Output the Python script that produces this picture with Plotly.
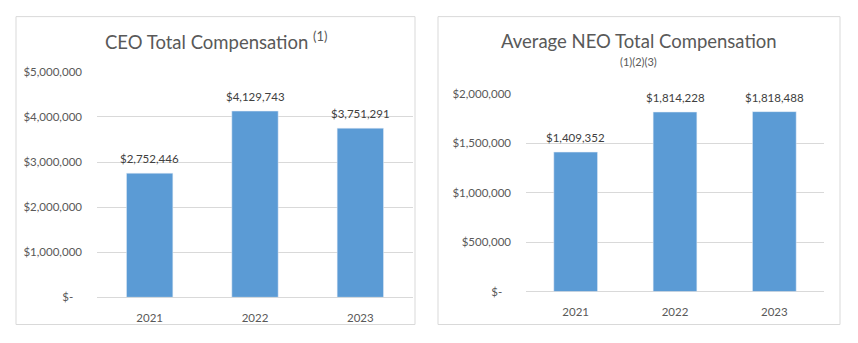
import plotly.graph_objects as go

years = ["2021", "2022", "2023"]
ceo_values = [2752446, 4129743, 3751291]
neo_values = [1409352, 1814228, 1818488]
ceo_labels = ["$2,752,446", "$4,129,743", "$3,751,291"]
neo_labels = ["$1,409,352", "$1,814,228", "$1,818,488"]
ceo_ticks = [0, 1000000, 2000000, 3000000, 4000000, 5000000]
ceo_ticktext = ["$-\u00a0\u00a0\u00a0", "$1,000,000", "$2,000,000", "$3,000,000", "$4,000,000", "$5,000,000"]
neo_ticks = [0, 500000, 1000000, 1500000, 2000000]
neo_ticktext = ["$-\u00a0\u00a0\u00a0", "$500,000", "$1,000,000", "$1,500,000", "$2,000,000"]

W, H = 858, 343
FONT = "Lato"
BAR = "#5B9BD5"
GRID = "#D9D9D9"
TXT = "#595959"

def px(x):
    return x / W

def py(y):
    return 1 - y / H

fig = go.Figure()
fig.add_trace(go.Bar(x=years, y=ceo_values, marker_color=BAR, xaxis="x", yaxis="y",
                     hoverinfo="skip"))
fig.add_trace(go.Bar(x=years, y=neo_values, marker_color=BAR, xaxis="x2", yaxis="y2",
                     hoverinfo="skip"))

annotations = []
for i, (v, t) in enumerate(zip(ceo_values, ceo_labels)):
    annotations.append(dict(x=i, y=v, xref="x", yref="y", text=t, showarrow=False,
                            yanchor="bottom", yshift=6,
                            font=dict(family=FONT, size=11.5, color="#404040")))
for i, (v, t) in enumerate(zip(neo_values, neo_labels)):
    annotations.append(dict(x=i, y=v, xref="x2", yref="y2", text=t, showarrow=False,
                            yanchor="bottom", yshift=6,
                            font=dict(family=FONT, size=11.5, color="#404040")))

annotations.append(dict(x=px(215.5), y=py(35), xref="paper", yref="paper",
                        text="CEO Total Compensation <sup>(1)</sup>", showarrow=False,
                        xanchor="center", yanchor="middle",
                        font=dict(family=FONT, size=18.5, color=TXT)))
annotations.append(dict(x=px(639), y=py(35), xref="paper", yref="paper",
                        text="Average NEO Total Compensation", showarrow=False,
                        xanchor="center", yanchor="middle",
                        font=dict(family=FONT, size=18.5, color=TXT)))
annotations.append(dict(x=px(638), y=py(57), xref="paper", yref="paper",
                        text="(1)(2)(3)", showarrow=False,
                        xanchor="center", yanchor="middle",
                        font=dict(family=FONT, size=11, color=TXT)))

shapes = [
    dict(type="rect", xref="paper", yref="paper", x0=px(16), x1=px(415), y0=py(330), y1=py(10),
         line=dict(color=GRID, width=1), fillcolor="rgba(0,0,0,0)", layer="below"),
    dict(type="rect", xref="paper", yref="paper", x0=px(438), x1=px(840), y0=py(330), y1=py(10),
         line=dict(color=GRID, width=1), fillcolor="rgba(0,0,0,0)", layer="below"),
]

tickfont = dict(family=FONT, size=11.5, color=TXT)

fig.update_layout(
    width=W, height=H, margin=dict(l=0, r=0, t=0, b=0, pad=0),
    paper_bgcolor="white", plot_bgcolor="white",
    showlegend=False, bargap=0.56,
    annotations=annotations, shapes=shapes,
    xaxis=dict(type="category", range=[-0.5, len(years) - 0.5], domain=[px(97), px(413)],
               anchor="y", tickfont=tickfont,
               showgrid=False, showline=False, ticks="", ticklabelstandoff=12, fixedrange=True),
    yaxis=dict(domain=[py(301.7), py(67.3)], anchor="x", range=[0, 5000000 * 1.0005],
               tickvals=ceo_ticks, ticktext=ceo_ticktext, tickfont=tickfont,
               showgrid=True, gridcolor=GRID, gridwidth=1, zeroline=True, zerolinecolor=GRID,
               zerolinewidth=1, ticklabelstandoff=14, fixedrange=True),
    xaxis2=dict(type="category", range=[-0.5, len(years) - 0.5], domain=[px(526), px(824)],
                anchor="y2", tickfont=tickfont,
                showgrid=False, showline=False, ticks="", ticklabelstandoff=12, fixedrange=True),
    yaxis2=dict(domain=[py(295.7), py(90)], anchor="x2", range=[0, 2000000 * 1.0005],
                tickvals=neo_ticks, ticktext=neo_ticktext, tickfont=tickfont,
                showgrid=True, gridcolor=GRID, gridwidth=1, zeroline=True, zerolinecolor=GRID,
                zerolinewidth=1, ticklabelstandoff=14, fixedrange=True),
)

fig.write_html("out.html", config={"displayModeBar": False})
